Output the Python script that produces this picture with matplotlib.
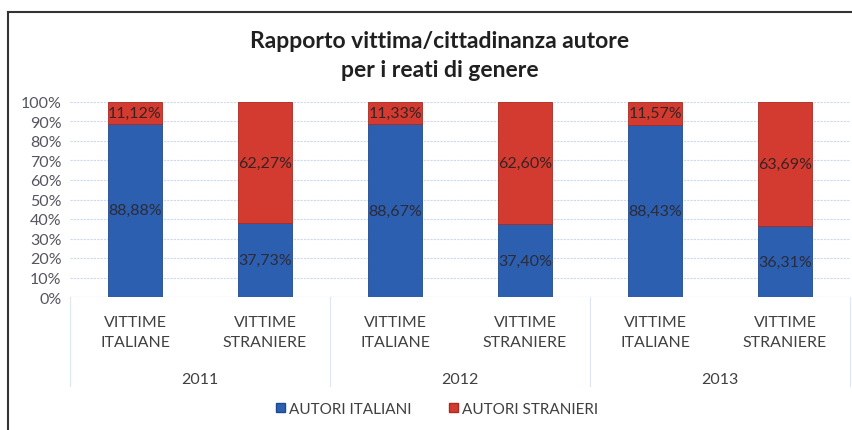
import matplotlib
matplotlib.use("Agg")
import matplotlib.pyplot as plt
from matplotlib.patches import Patch
from matplotlib.lines import Line2D
import numpy as np

plt.rcParams['font.family'] = ['Lato', 'DejaVu Sans']

years = ["2011", "2012", "2013"]
victims = ["VITTIME\nITALIANE", "VITTIME\nSTRANIERE"]
autori_italiani = [88.88, 37.73, 88.67, 37.40, 88.43, 36.31]
autori_stranieri = [11.12, 62.27, 11.33, 62.60, 11.57, 63.69]
series_names = ["AUTORI ITALIANI", "AUTORI STRANIERI"]
title = "Rapporto vittima/cittadinanza autore\nper i reati di genere"

blue = "#2d5fb0"
red = "#d33b30"
txt = "#404040"

fig = plt.figure(figsize=(8.52, 4.31), dpi=100)
W, H = 852, 431
ax = fig.add_axes([70 / W, 1 - 298 / H, 780 / W, 195 / H])

x = np.arange(len(autori_italiani))
ita = np.array(autori_italiani) / 100
stra = np.array(autori_stranieri) / 100
ax.bar(x, ita, width=0.41, color=blue, edgecolor="#1f4a8f", linewidth=0.6, zorder=3)
ax.bar(x, stra, bottom=ita, width=0.41, color=red, edgecolor="#a82a22", linewidth=0.6, zorder=3)

def fmt(v):
    return f"{v:.2f}%".replace(".", ",")

for i in range(len(x)):
    ax.text(x[i], ita[i] / 2, fmt(autori_italiani[i]), ha="center", va="center",
            fontsize=11.5, color="#2b2b3a", zorder=4)
    ax.text(x[i], ita[i] + stra[i] / 2, fmt(autori_stranieri[i]), ha="center", va="center",
            fontsize=11.5, color="#3a2222", zorder=4)

ax.set_xlim(-0.5, len(x) - 0.5)
ax.set_ylim(0, 1)
ax.set_yticks(np.linspace(0, 1, 11))
ax.set_yticklabels([f"{int(round(v*100))}%" for v in np.linspace(0, 1, 11)],
                   fontsize=11.5, color="#555560")
ax.tick_params(axis="y", length=0, pad=6)
ax.set_xticks([])
ax.grid(axis="y", color="#ccdaee", linewidth=0.8, linestyle=(0, (2, 1)), zorder=0)
for s in ax.spines.values():
    s.set_visible(False)
ax.axhline(0, color="#ccdaee", linewidth=0.8, zorder=1)

# category labels
for i in range(len(x)):
    ax.annotate(victims[i % 2], xy=(x[i], 0), xycoords=("data", "axes fraction"),
                xytext=(0, -13), textcoords="offset points", ha="center", va="top",
                fontsize=11.5, color=txt, linespacing=1.5, annotation_clip=False)
for j, yr in enumerate(years):
    ax.annotate(yr, xy=(2 * j + 0.5, 0), xycoords=("data", "axes fraction"),
                xytext=(0, -59), textcoords="offset points", ha="center", va="center",
                fontsize=11.5, color=txt, annotation_clip=False)
for b in [-0.5, 1.5, 3.5, 5.5]:
    ax.add_line(Line2D([b, b], [0, -89 / 195], transform=ax.get_xaxis_transform(),
                       color="#dde6f2", linewidth=0.8, clip_on=False))

fig.text(440 / W, 1 - 56 / H, title, ha="center", va="center", fontsize=16.5,
         fontweight="bold", color="#202020", linespacing=1.45)

handles = [Patch(facecolor=blue, edgecolor="#1f4a8f"), Patch(facecolor=red, edgecolor="#a82a22")]
fig.legend(handles, series_names, loc="center", bbox_to_anchor=(437 / W, 1 - 410 / H),
           ncol=2, frameon=False, fontsize=11, handlelength=0.6, handleheight=0.6,
           handletextpad=0.3, columnspacing=2.4, labelcolor=txt)

# outer frame
fig.add_artist(Line2D([8 / W, 8 / W], [0, 1 - 13 / H], transform=fig.transFigure, color="#333333", linewidth=1.5))
fig.add_artist(Line2D([8 / W, 1], [1 - 13 / H, 1 - 13 / H], transform=fig.transFigure, color="#333333", linewidth=1.5))

fig.savefig("out.png", dpi=100, facecolor="white")
